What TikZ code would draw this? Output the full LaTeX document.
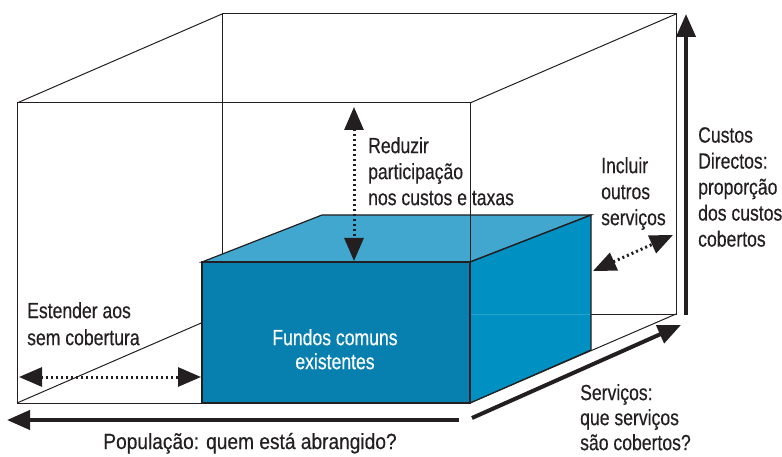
\documentclass[tikz,border=0pt]{standalone}
\usepackage{fontspec}
\setmainfont{Liberation Sans}[FakeStretch=0.8, FakeBold=0.4]
\newfontfamily\widerfont{Liberation Sans}[FakeStretch=0.87, FakeBold=0.4]
\usetikzlibrary{arrows.meta}
\definecolor{ink}{HTML}{231F20}
\definecolor{frontc}{HTML}{0780B0}
\definecolor{topc}{HTML}{42A7CF}
\definecolor{sidec}{HTML}{0091C2}
\definecolor{sideln}{HTML}{2AA0CC}
\tikzset{
  edge/.style={draw=ink, line width=1pt},
  face/.style={draw=ink, line width=1.2pt, line join=miter},
  dotarrow/.style={draw=ink, line width=3pt, dash pattern=on 2pt off 3pt,
     {Triangle[length=23pt,width=19pt]}-{Triangle[length=23pt,width=19pt]}},
  bigarrow/.style={draw=ink, line width=4pt, -{Triangle[length=23pt,width=19pt]}},
  lbl/.style={font=\fontsize{22}{26}\selectfont, text=ink, inner sep=0pt, align=left, anchor=north west},
}
\begin{document}
\begin{tikzpicture}[x=1pt,y=-1pt]
\useasboundingbox (0,0) rectangle (782,457);
% outer cube corners
\coordinate (ftl) at (17,103);
\coordinate (ftr) at (470,103);
\coordinate (fbr) at (470,403);
\coordinate (fbl) at (17,403);
\coordinate (btl) at (222,14);
\coordinate (btr) at (676,14);
\coordinate (bbr) at (676,314);
\coordinate (bbl) at (222,314);
% back and connecting edges
\draw[edge] (btl) -- (btr) -- (bbr) -- (bbl) -- cycle;
\draw[edge] (ftl) -- (btl);
\draw[edge] (ftr) -- (btr);
\draw[edge] (fbl) -- (bbl);
\draw[edge] (fbr) -- (bbr);
\draw[edge] (ftl) -- (ftr) -- (fbr) -- (fbl) -- cycle;
% inner box
\coordinate (iftl) at (202,262);
\coordinate (iftr) at (470,262);
\coordinate (ifbr) at (470,403);
\coordinate (ifbl) at (202,403);
\coordinate (ibtl) at (322,215);
\coordinate (ibtr) at (591,215);
\coordinate (ibbr) at (591,350);
\fill[topc] (iftl) -- (ibtl) -- (ibtr) -- (iftr) -- cycle;
\fill[sidec] (iftr) -- (ibtr) -- (ibbr) -- (ifbr) -- cycle;
\fill[frontc] (iftl) -- (iftr) -- (ifbr) -- (ifbl) -- cycle;
\draw[sideln, line width=0.6pt] (470,314) -- (591,314);
\draw[face] (iftl) -- (ibtl) -- (ibtr) -- (iftr) -- cycle;
\draw[face] (iftr) -- (ibtr) -- (ibbr) -- (ifbr);
\draw[face] (iftl) -- (iftr) -- (ifbr) -- (ifbl) -- cycle;
\draw[edge] (ftr) -- (iftr);
% arrows
\coordinate (a1s) at (354,107); \coordinate (a1e) at (354,261);
\coordinate (a2s) at (19,377);  \coordinate (a2e) at (201,377);
\coordinate (a3s) at (593,271); \coordinate (a3e) at (673,235);
\coordinate (a4s) at (686,315); \coordinate (a4e) at (686,14);
\coordinate (a5s) at (459,420); \coordinate (a5e) at (7,420);
\coordinate (a6s) at (472,418); \coordinate (a6e) at (681,325);
\draw[dotarrow] (a1s) -- (a1e);
\draw[dotarrow] (a2s) -- (a2e);
\draw[dotarrow] (a3s) -- (a3e);
\draw[bigarrow] (a4s) -- (a4e);
\draw[bigarrow] (a5s) -- (a5e);
\draw[bigarrow] (a6s) -- (a6e);
% labels
\node[lbl] (reduzir) at (368,137) {Reduzir\\participação\\nos custos e taxas};
\node[lbl] (incluir) at (601,157) {Incluir\\outros\\serviços};
\node[lbl] (custos) at (698,127) {Custos\\Directos:\\proporção\\dos custos\\cobertos};
\node[lbl, font=\fontsize{22}{27}\selectfont] (estender) at (27,302) {Estender aos\\sem cobertura};
\node[lbl, text=white, align=center, anchor=north, font=\fontsize{22}{24}\selectfont] (fundos) at (335,329) {Fundos comuns\\existentes};
\node[lbl, anchor=base, font=\widerfont\fontsize{22}{26}\selectfont] (populacao) at (250,449) {População: quem está abrangido?};
\node[lbl, font=\fontsize{22}{25}\selectfont] (servicos) at (580,384) {Serviços:\\que serviços\\são cobertos?};
\end{tikzpicture}
\end{document}
